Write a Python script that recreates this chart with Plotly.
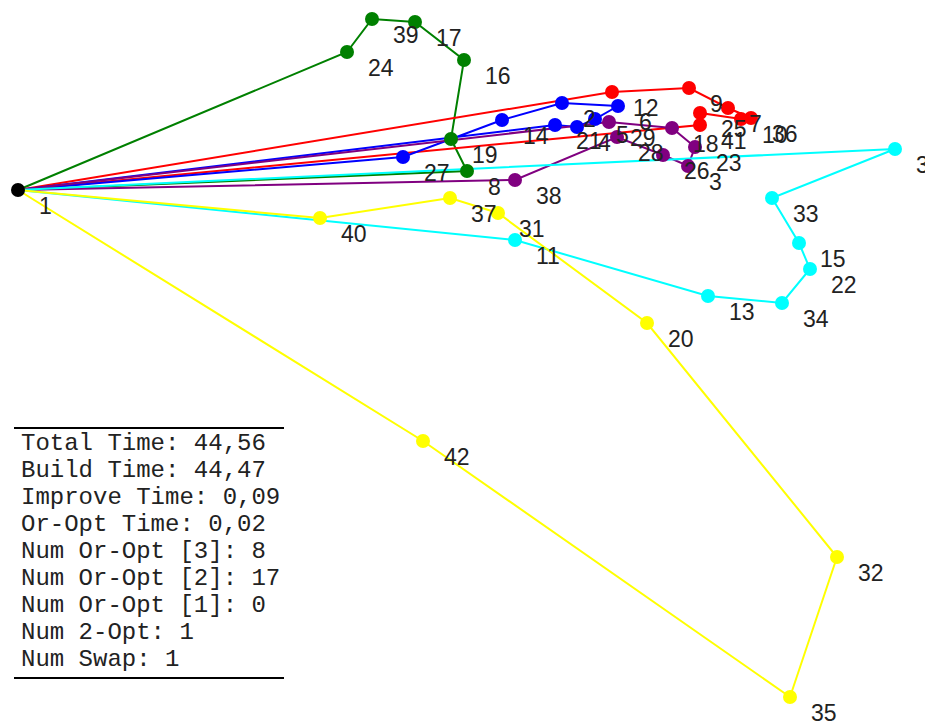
import plotly.graph_objects as go

# Depot (picture coordinates, y grows downward)
depot_id = "1"
depot_x = 18
depot_y = 190

# Routes: node ids and positions
green_ids = ["24", "39", "17", "16", "19", "8"]
green_x = [347, 372, 415, 464, 451, 467]
green_y = [52, 19, 22, 60, 139, 171]

red_ids = ["12", "9", "7", "36", "10", "25", "41"]
red_x = [612, 689, 728, 751, 741, 700, 700]
red_y = [92, 88, 108, 118, 119, 113, 125]

blue_ids = ["27", "14", "2", "6", "5", "4", "21"]
blue_x = [403, 502, 562, 618, 595, 577, 555]
blue_y = [157, 120, 103, 106, 119, 127, 125]

purple_ids = ["38", "28", "26", "3", "23", "18", "29"]
purple_x = [515, 617, 663, 688, 695, 672, 609]
purple_y = [180, 137, 155, 166, 147, 128, 122]

cyan_ids = ["30", "33", "15", "22", "34", "13", "11"]
cyan_x = [895, 772, 799, 810, 782, 708, 515]
cyan_y = [149, 198, 243, 269, 303, 296, 240]

yellow_ids = ["40", "37", "31", "20", "32", "35", "42"]
yellow_x = [320, 450, 498, 647, 837, 790, 423]
yellow_y = [218, 198, 213, 323, 557, 697, 441]

routes = [
    ("#008000", green_ids, green_x, green_y),
    ("#ff0000", red_ids, red_x, red_y),
    ("#0000ff", blue_ids, blue_x, blue_y),
    ("#800080", purple_ids, purple_x, purple_y),
    ("#00ffff", cyan_ids, cyan_x, cyan_y),
    ("#ffff00", yellow_ids, yellow_x, yellow_y),
]

stats_lines = [
    "Total Time: 44,56",
    "Build Time: 44,47",
    "Improve Time: 0,09",
    "Or-Opt Time: 0,02",
    "Num Or-Opt [3]: 8",
    "Num Or-Opt [2]: 17",
    "Num Or-Opt [1]: 0",
    "Num 2-Opt: 1",
    "Num Swap: 1",
]

fig = go.Figure()
annotations = []

for color, ids, xs, ys in routes:
    fig.add_trace(go.Scatter(
        x=[depot_x] + xs + [depot_x],
        y=[depot_y] + ys + [depot_y],
        mode="lines",
        line=dict(color=color, width=2),
        hoverinfo="skip",
        showlegend=False,
    ))
for color, ids, xs, ys in routes:
    fig.add_trace(go.Scatter(
        x=xs, y=ys, mode="markers",
        marker=dict(color=color, size=14, line=dict(width=0)),
        text=ids, hoverinfo="text", showlegend=False,
    ))
    for i, x, y in zip(ids, xs, ys):
        annotations.append(dict(
            x=x, y=y, text=i, showarrow=False, xanchor="left", yanchor="middle",
            xshift=19, yshift=-16,
            font=dict(family="Liberation Sans, Arial", size=23, color="#222222"),
        ))

fig.add_trace(go.Scatter(
    x=[depot_x], y=[depot_y], mode="markers",
    marker=dict(color="black", size=14), text=[depot_id], hoverinfo="text", showlegend=False,
))
annotations.append(dict(
    x=depot_x, y=depot_y, text=depot_id, showarrow=False, xanchor="left", yanchor="middle",
    xshift=19, yshift=-16,
    font=dict(family="Liberation Sans, Arial", size=23, color="#222222"),
))

# Statistics box
for k, line in enumerate(stats_lines):
    annotations.append(dict(
        x=19, y=443 + 27 * k, text=line, showarrow=False, xanchor="left", yanchor="middle",
        font=dict(family="Liberation Mono, Courier New, monospace", size=24, color="#222222"),
    ))

shapes = [
    dict(type="line", x0=14, x1=284, y0=428, y1=428, line=dict(color="black", width=2)),
    dict(type="line", x0=14, x1=284, y0=678, y1=678, line=dict(color="black", width=2)),
]

# The page body has an 8px margin, so the plot covers page pixels 8..933 / 8..722
fig.update_layout(
    width=925, height=714,
    margin=dict(l=0, r=0, t=0, b=0),
    paper_bgcolor="white", plot_bgcolor="white",
    xaxis=dict(range=[8, 933], visible=False, fixedrange=True),
    yaxis=dict(range=[722, 8], visible=False, fixedrange=True),
    annotations=annotations,
    shapes=shapes,
    showlegend=False,
)

fig.write_html("out.html")
